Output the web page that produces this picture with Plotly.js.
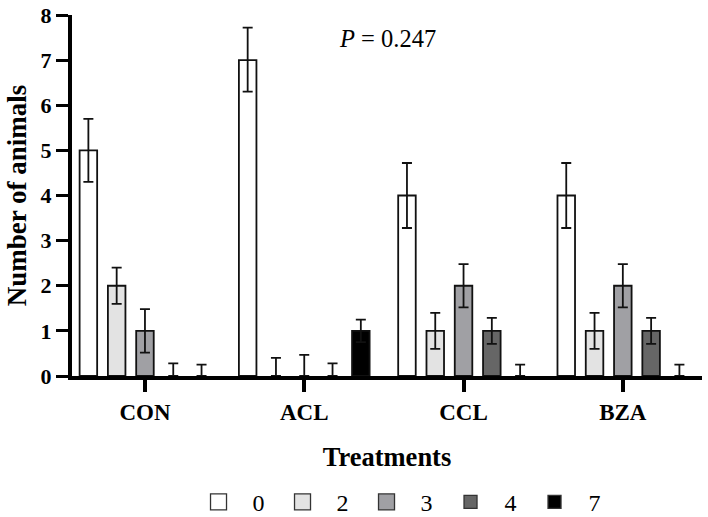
<!DOCTYPE html>
<html>
<head>
<meta charset="utf-8">
<script src="https://cdn.plot.ly/plotly-3.0.1.min.js"></script>
<style>html,body{margin:0;padding:0;background:#fff;}#chart{width:708px;height:517px;}</style>
</head>
<body>
<div id="chart"></div>
<script>
// Data
const treatments = ["CON", "ACL", "CCL", "BZA"];
const seriesNames = ["0", "2", "3", "4", "7"];
const seriesValues = [
  [5, 7, 4, 4],   // 0
  [2, 0, 1, 1],   // 2
  [1, 0, 2, 2],   // 3
  [0, 0, 1, 1],   // 4
  [0, 1, 0, 0]    // 7
];
const errUpper = [
  [0.70, 0.72, 0.72, 0.72],
  [0.40, 0.40, 0.40, 0.40],
  [0.48, 0.47, 0.48, 0.48],
  [0.28, 0.28, 0.29, 0.29],
  [0.25, 0.25, 0.25, 0.25]
];
const errLower = [
  [0.70, 0.70, 0.72, 0.72],
  [0.40, 0, 0.40, 0.40],
  [0.48, 0, 0.48, 0.48],
  [0, 0, 0.29, 0.29],
  [0, 0.25, 0, 0]
];
const seriesColors = ["#ffffff", "#e3e3e3", "#a0a0a4", "#666666", "#000000"];
const legendSizes = [16, 16, 16, 13, 13];
const pText = "<i>P</i> = 0.247";

const FONT = "'Liberation Serif', 'Times New Roman', serif";

const traces = [];
seriesNames.forEach((name, i) => {
  traces.push({
    type: "bar",
    name: name,
    x: treatments,
    y: seriesValues[i],
    showlegend: false,
    marker: {color: seriesColors[i],
             line: {color: "#111", width: seriesValues[i].map(v => v === 0 ? 0 : 1.8)}},
    error_y: {type: "data", symmetric: false, array: errUpper[i], arrayminus: errLower[i],
              color: "#111", thickness: 1.8, width: 5}
  });
});
seriesNames.forEach((name, i) => {
  traces.push({
    type: "scatter",
    mode: "markers",
    name: name,
    x: [null],
    y: [null],
    showlegend: true,
    marker: {symbol: "square", size: legendSizes[i], color: seriesColors[i], line: {color: "#333", width: 1.3}}
  });
});

const layout = {
  width: 708, height: 517,
  margin: {l: 72, r: 6, t: 15, b: 141},
  paper_bgcolor: "#fff", plot_bgcolor: "#fff",
  barmode: "group",
  bargap: 0.112,
  bargroupgap: 0.38,
  font: {family: FONT, color: "#000"},
  showlegend: true,
  xaxis: {
    type: "category",
    range: [-0.458, 3.497],
    showline: true, linecolor: "#000", linewidth: 4,
    ticks: "outside", ticklen: 12, tickwidth: 4, tickcolor: "#000",
    tickfont: {family: FONT, size: 23, weight: "bold"},
    showgrid: false, zeroline: false,
    automargin: false,
    title: {text: "<b>Treatments</b>", font: {family: FONT, size: 26.5}, standoff: 25}
  },
  yaxis: {
    range: [0, 8], dtick: 1, tick0: 0,
    showline: true, linecolor: "#000", linewidth: 4,
    ticks: "outside", ticklen: 12, tickwidth: 3, tickcolor: "#000",
    tickfont: {family: FONT, size: 22, weight: "bold"},
    showgrid: false, zeroline: false,
    automargin: false,
    title: {text: "<b>Number of animals</b>", font: {family: FONT, size: 27}, standoff: 7}
  },
  legend: {
    orientation: "h",
    x: 0.1786, xanchor: "left",
    yref: "container",
    y: 0.072, yanchor: "top",
    itemwidth: 58,
    entrywidth: 11,
    bgcolor: "rgba(0,0,0,0)",
    font: {family: FONT, size: 24}
  },
  annotations: [{
    xref: "paper", yref: "paper",
    x: 0.5, y: 0.936, yanchor: "middle",
    text: pText,
    showarrow: false,
    font: {family: FONT, size: 24.5, color: "#000"}
  }]
};

Plotly.newPlot("chart", traces, layout, {displayModeBar: false, staticPlot: true});
</script>
</body>
</html>
